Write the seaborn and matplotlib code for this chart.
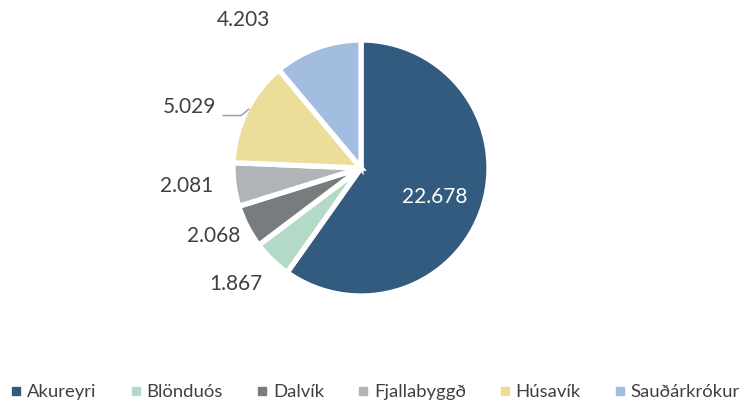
import numpy as np
import matplotlib
matplotlib.use('Agg')
import matplotlib.pyplot as plt
import seaborn as sns
from matplotlib.lines import Line2D

sns.set_theme(style='white')
plt.rcParams['font.family'] = ['Lato', 'DejaVu Sans']

# gögn
towns = ['Akureyri', 'Blönduós', 'Dalvík', 'Fjallabyggð', 'Húsavík', 'Sauðárkrókur']
values = [22.678, 1.867, 2.068, 2.081, 5.029, 4.203]
labels = ['22.678', '1.867', '2.068', '2.081', '5.029', '4.203']
colors = ['#335a7f', '#b3d9c7', '#777c7e', '#b0b4b8', '#eddd9b', '#a2bddf']

# staðsetning merkja (fjarlægð frá miðju, snúningur í gráðum)
label_dist = [0.62, 1.33, 1.27, 1.37, 1.42, 1.48]
label_shift = [-4, -3, -2.5, -1.5, 6.5, 18.5]

fig = plt.figure(figsize=(7.47, 4.04), dpi=100)
ax = fig.add_axes([233 / 747, (404 - 296) / 404, 256 / 747, 256 / 404])

wedges, _ = ax.pie(values, colors=colors, startangle=90, counterclock=False,
                   wedgeprops=dict(edgecolor='white', linewidth=3.8))
ax.set_xlim(-1, 1)
ax.set_ylim(-1, 1)
ax.set_aspect('auto')
ax.axis('off')

for i, w in enumerate(wedges):
    ang = np.deg2rad((w.theta1 + w.theta2) / 2 + label_shift[i])
    x = label_dist[i] * np.cos(ang)
    y = label_dist[i] * np.sin(ang)
    col = 'white' if i == 0 else '#404040'
    ax.text(x, y, labels[i], ha='center', va='center', fontsize=15, color=col)

# leiðarlína fyrir Húsavík
w = wedges[4]
ang = np.deg2rad((w.theta1 + w.theta2) / 2 + 6.5)
lx, ly = 1.42 * np.cos(ang), 1.42 * np.sin(ang)
ax.plot([lx + 0.26, lx + 0.40, lx + 0.46],
        [ly - 0.07, ly - 0.07, ly - 0.02],
        color='#a6a6a6', lw=1.2, clip_on=False)

handles = [Line2D([], [], marker='s', linestyle='', markersize=6, color=c) for c in colors]
fig.legend(handles, towns, loc='center', bbox_to_anchor=(0.5, 1 - 392 / 404), ncol=6,
           frameon=False, fontsize=13.3, handletextpad=0.1, columnspacing=1.6,
           labelcolor='#404040', handlelength=1.0)

fig.savefig('out.png', dpi=100)
